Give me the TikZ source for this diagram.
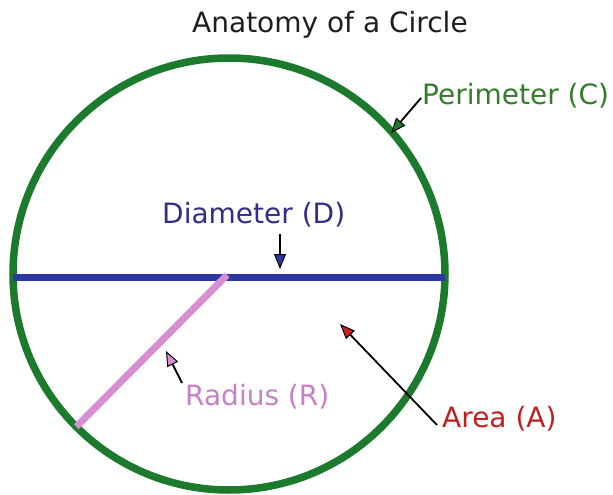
\documentclass[tikz,border=0pt]{standalone}
\usepackage{fontspec}
\setmainfont{DejaVu Sans}
\usetikzlibrary{arrows.meta}
\definecolor{RimGreen}{RGB}{28,122,44}
\definecolor{RimText}{RGB}{52,124,44}
\definecolor{DiamBlue}{RGB}{44,56,160}
\definecolor{DiamText}{RGB}{48,46,138}
\definecolor{RadPink}{RGB}{216,142,210}
\definecolor{RadText}{RGB}{200,128,196}
\definecolor{AreaRed}{RGB}{206,30,30}
\definecolor{AreaText}{RGB}{190,32,32}
\definecolor{TitleGray}{RGB}{30,30,30}
\tikzset{
  rim/.style={draw=RimGreen,line width=7.5pt,circle,minimum size=432pt,
    inner sep=0pt,outer sep=0pt},
  stroke/.style={line width=7pt},
  pointer/.style={draw=black,line width=1.8pt,
    -{Triangle[length=15pt,width=12pt,fill=#1,line width=1pt]}},
  tag/.style={anchor=base west,inner sep=0pt}
}

\begin{document}
\begin{tikzpicture}[x=1pt,y=-1pt,font=\fontsize{28}{34}\selectfont]
      \useasboundingbox (0,0) rectangle (613,495);
      \node[tag,TitleGray] (title) at (192,33) {Anatomy of a Circle};
      \node[rim] (circ) at (229,274) {};
      \draw[stroke,DiamBlue] ([yshift=-3pt]circ.west) -- ([yshift=-3pt]circ.east);
      \draw[stroke,RadPink] ([shift={(-2pt,-1pt)}]circ.center) -- (circ.225);
      \node[tag,RimText] (perim) at (422,104) {Perimeter (C)};
      \node[tag,DiamText] (diam) at (162,223) {Diameter (D)};
      \node[tag,RadText] (rad) at (185,405) {Radius (R)};
      \node[tag,AreaText] (area) at (442,427) {Area (A)};
      \coordinate (ptail) at (421,98);  \coordinate (ptip) at (391,133);
      \coordinate (dtail) at (280,234); \coordinate (dtip) at (280,269);
      \coordinate (rtail) at (182,383); \coordinate (rtip) at (166,351);
      \coordinate (atail) at (437,425); \coordinate (atip) at (340,324);
      \draw[pointer=RimGreen] (ptail) -- (ptip);
      \draw[pointer=DiamBlue] (dtail) -- (dtip);
      \draw[pointer=RadPink] (rtail) -- (rtip);
      \draw[pointer=AreaRed] (atail) -- (atip);
    \end{tikzpicture}
\end{document}
